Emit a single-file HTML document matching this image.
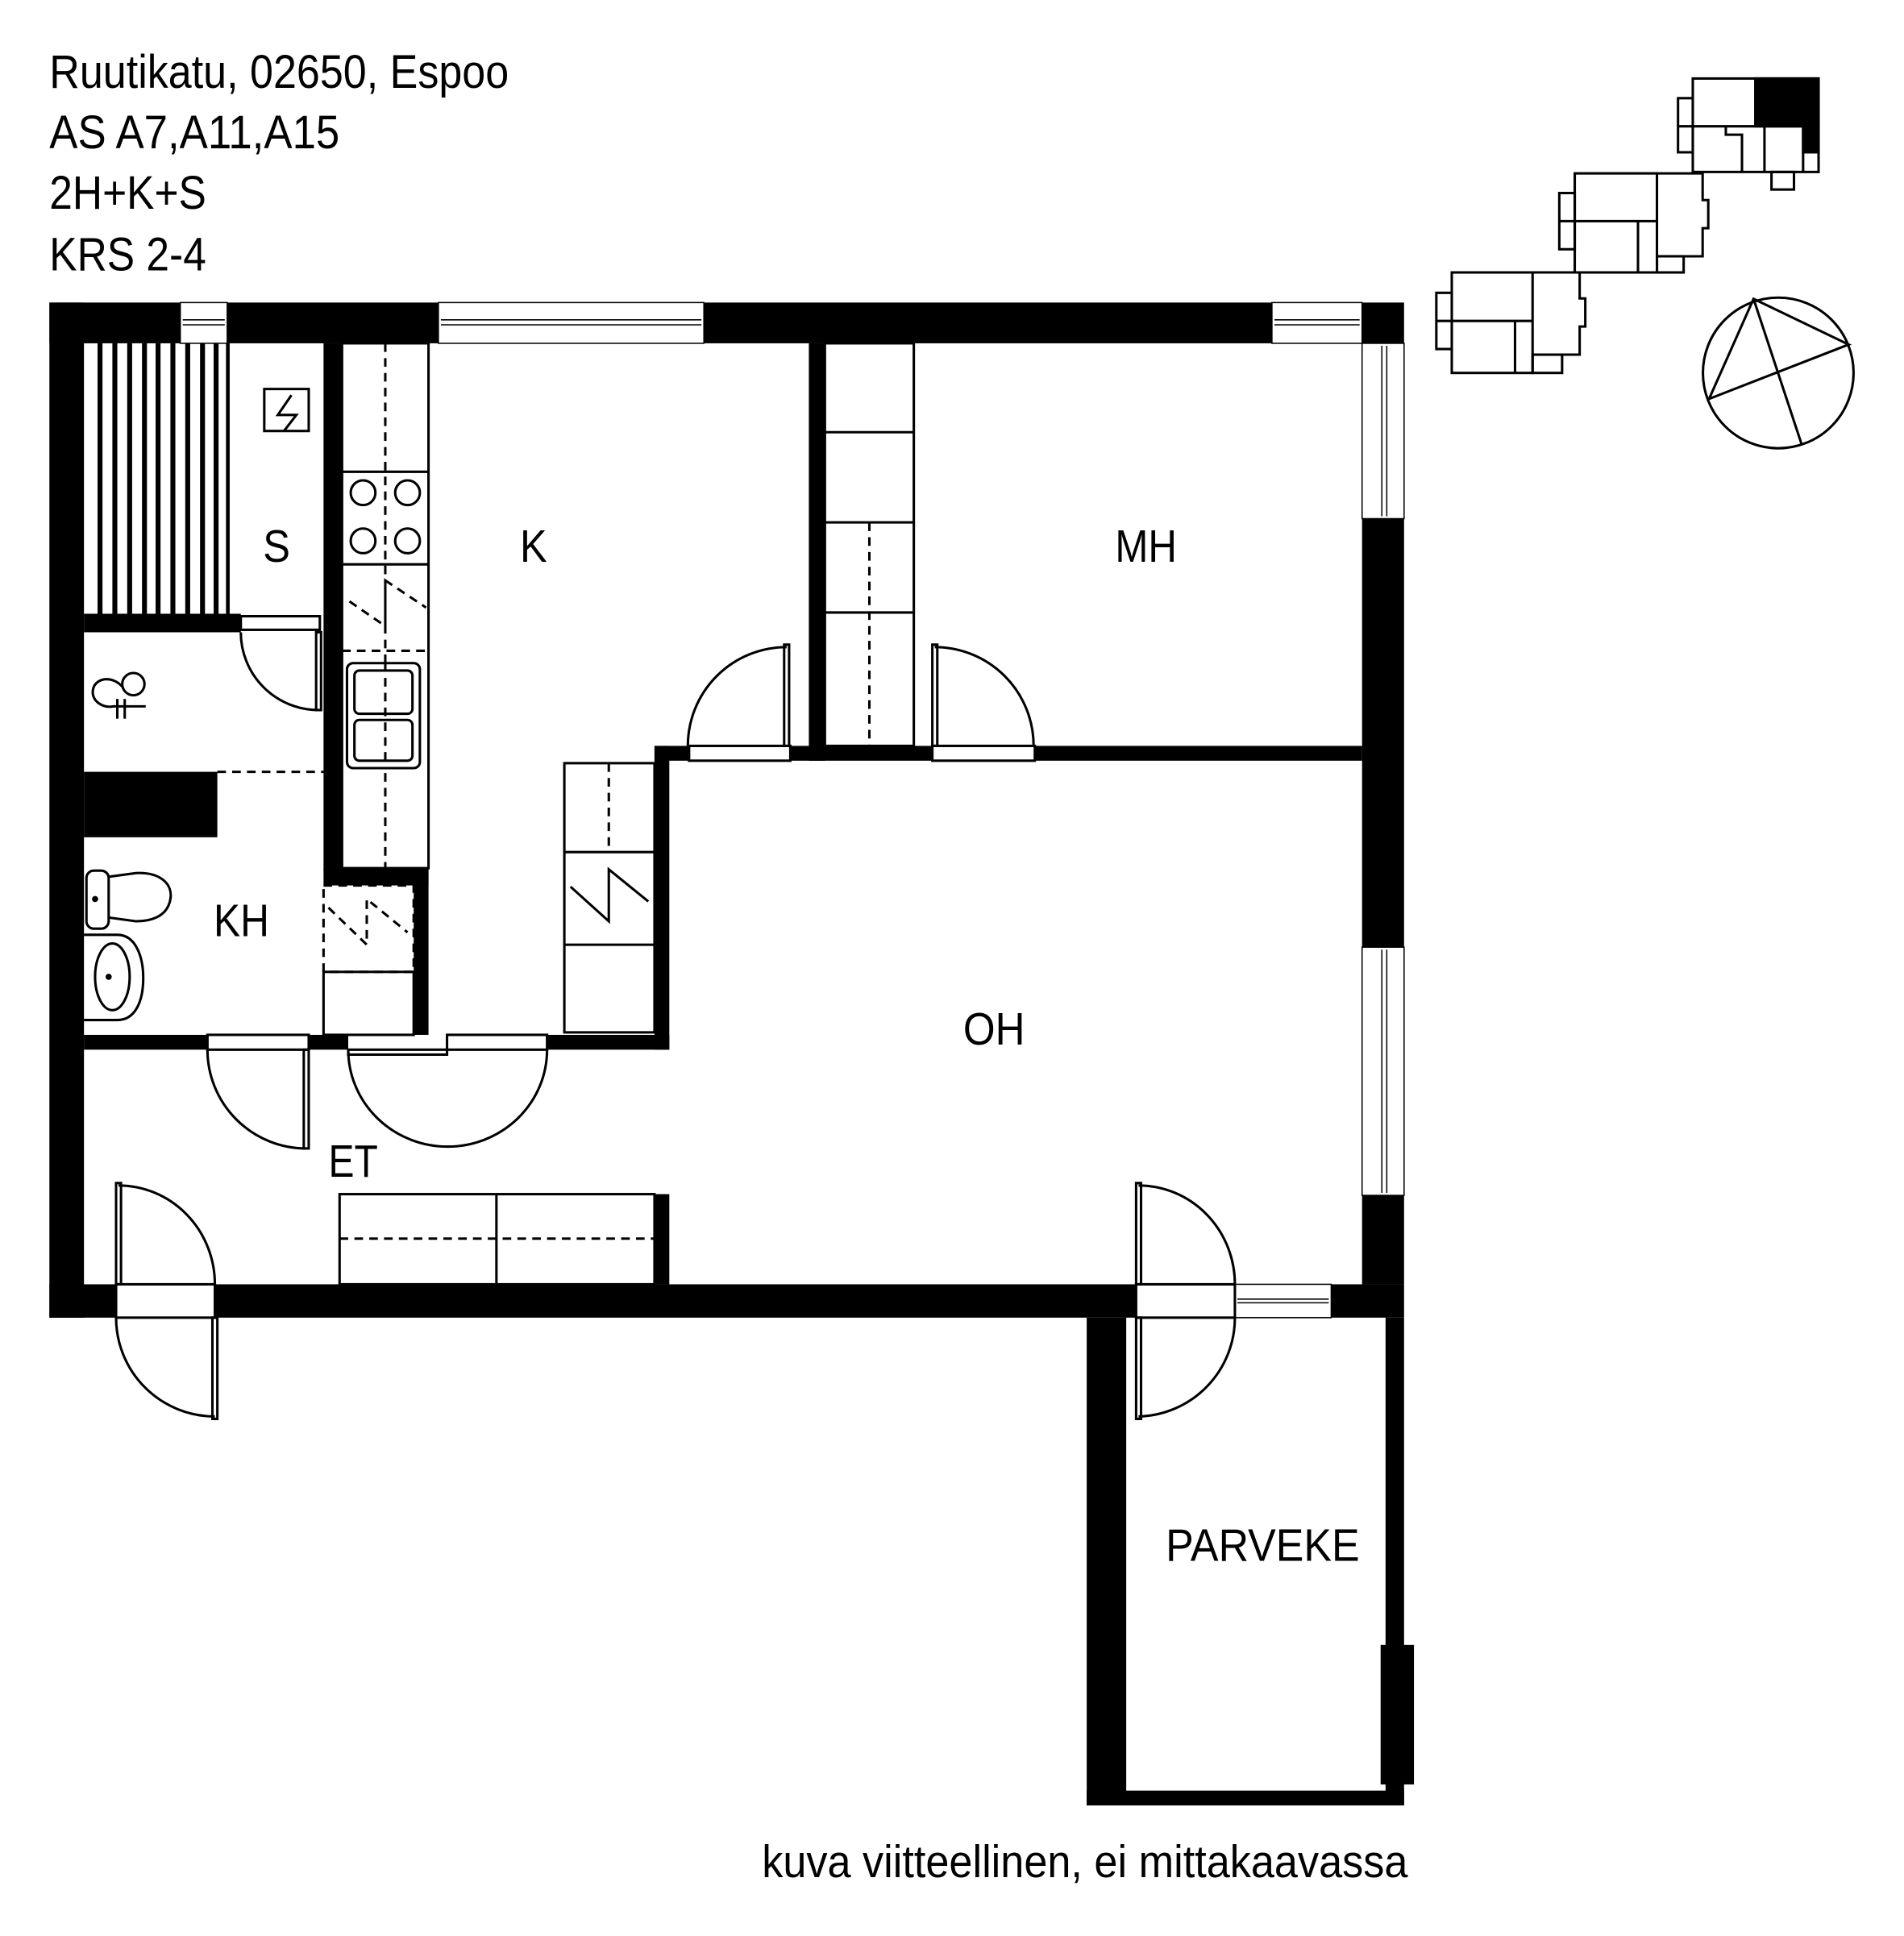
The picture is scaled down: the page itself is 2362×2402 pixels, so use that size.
<!DOCTYPE html>
<html><head><meta charset="utf-8"><style>
html,body{margin:0;padding:0;background:#fff}
svg{display:block}
text{font-family:"Liberation Sans",Arial,sans-serif;fill:#000}
</style></head><body>
<svg width="2362" height="2402" viewBox="0 0 1548 1574" preserveAspectRatio="none" xmlns="http://www.w3.org/2000/svg">
<rect width="1548" height="1574" fill="#fff"/>
<g transform="scale(1.004)">
<!-- header -->
<g font-size="38">
<text x="40" y="71" textLength="372" lengthAdjust="spacingAndGlyphs">Ruutikatu, 02650, Espoo</text>
<text x="40" y="120" textLength="235" lengthAdjust="spacingAndGlyphs">AS A7,A11,A15</text>
<text x="40" y="169" textLength="127" lengthAdjust="spacingAndGlyphs">2H+K+S</text>
<text x="40" y="219" textLength="127" lengthAdjust="spacingAndGlyphs">KRS 2-4</text>
</g>

<g fill="#000">
<rect x="40" y="245" width="106" height="33"/>
<rect x="184" y="245" width="171" height="33"/>
<rect x="570" y="245" width="460" height="33"/>
<rect x="1103" y="245" width="34" height="33"/>
<rect x="40" y="245" width="28" height="822"/>
<rect x="1103" y="420" width="34" height="347"/>
<rect x="1103" y="968" width="34" height="72"/>
<rect x="40" y="1040" width="54" height="27"/>
<rect x="174" y="1040" width="746" height="27"/>
<rect x="1078" y="1040" width="59" height="27"/>
<rect x="880" y="1067" width="32" height="395"/>
<rect x="880" y="1450" width="257" height="12"/>
<rect x="1122" y="1067" width="15" height="395"/>
<rect x="1118" y="1332" width="27" height="113"/>
<rect x="262" y="278" width="15" height="427"/>
<rect x="68" y="497" width="127" height="15"/>
<rect x="68" y="625" width="108" height="53"/>
<rect x="262" y="703" width="85" height="14"/>
<rect x="335" y="703" width="12" height="135"/>
<rect x="68" y="838" width="100" height="12"/>
<rect x="250" y="838" width="32" height="12"/>
<rect x="443" y="838" width="99" height="12"/>
<rect x="530" y="604" width="12" height="246"/>
<rect x="530" y="604" width="28" height="12"/>
<rect x="655" y="278" width="13" height="338"/>
<rect x="640" y="604" width="115" height="12"/>
<rect x="838" y="604" width="265" height="12"/>
<rect x="530" y="967" width="12" height="73"/>
<rect x="79" y="278" width="4" height="219"/><rect x="91" y="278" width="4" height="219"/>
<rect x="103" y="278" width="4" height="219"/><rect x="115" y="278" width="4" height="219"/>
<rect x="126" y="278" width="4" height="219"/><rect x="138" y="278" width="4" height="219"/>
<rect x="150" y="278" width="4" height="219"/><rect x="162" y="278" width="4" height="219"/>
<rect x="173" y="278" width="4" height="219"/><rect x="183" y="278" width="3" height="219"/>
</g>

<g fill="#fff" stroke="#000" stroke-width="1">
<rect x="146" y="245" width="38" height="33"/><line x1="148" y1="259" x2="182" y2="259"/><line x1="148" y1="263" x2="182" y2="263"/>
<rect x="355" y="245" width="215" height="33"/><line x1="357" y1="259" x2="568" y2="259"/><line x1="357" y1="263" x2="568" y2="263"/>
<rect x="1030" y="245" width="73" height="33"/><line x1="1032" y1="259" x2="1101" y2="259"/><line x1="1032" y1="263" x2="1101" y2="263"/>
<rect x="1103" y="278" width="34" height="142"/><line x1="1119" y1="280" x2="1119" y2="418"/><line x1="1123" y1="280" x2="1123" y2="418"/>
<rect x="1103" y="767" width="34" height="201"/><line x1="1119" y1="769" x2="1119" y2="966"/><line x1="1123" y1="769" x2="1123" y2="966"/>
<rect x="1000" y="1040" width="78" height="27"/><line x1="1002" y1="1052" x2="1076" y2="1052"/><line x1="1002" y1="1055" x2="1076" y2="1055"/>
<rect x="195" y="499" width="64" height="11" stroke-width="2"/>
<rect x="558" y="604" width="82" height="12" stroke-width="2"/>
<rect x="755" y="604" width="83" height="12" stroke-width="2"/>
<rect x="168" y="838" width="82" height="12" stroke-width="2"/>
<rect x="362" y="838" width="81" height="12" stroke-width="2"/>
<rect x="94" y="1040" width="80" height="27" stroke-width="2"/>
<rect x="920" y="1040" width="80" height="27" stroke-width="2"/>
</g>

<g fill="none" stroke="#000" stroke-width="2">
<rect x="277" y="278" width="70" height="425"/>
<line x1="277" y1="382" x2="347" y2="382"/>
<line x1="277" y1="457" x2="347" y2="457"/>
<line x1="312" y1="278" x2="312" y2="703" stroke-dasharray="7,5"/>
<line x1="277" y1="527" x2="347" y2="527" stroke-dasharray="7,5"/>
<circle cx="294" cy="399" r="10"/><circle cx="330" cy="399" r="10"/>
<circle cx="294" cy="438" r="10"/><circle cx="330" cy="438" r="10"/>
<path d="M283 487 L312 507 L312 470 L345 492" stroke-dasharray="7,5"/>
<rect x="281" y="537" width="59" height="85" rx="5" fill="#fff"/>
<rect x="287" y="543" width="47" height="35" rx="4"/>
<rect x="287" y="583" width="47" height="33" rx="4"/>
<line x1="312" y1="537" x2="312" y2="622" stroke-dasharray="7,5"/>
<rect x="214" y="315" width="36" height="34"/>
<path d="M236 320 L225 336 L240 336 L230 349"/>
<circle cx="108" cy="554" r="9"/>
<path d="M99 556 C92 548 80 548 76 556 C72 566 82 574 92 572 L118 572"/>
<line x1="95" y1="566" x2="95" y2="582"/><line x1="101" y1="566" x2="101" y2="582"/>
<line x1="176" y1="625" x2="262" y2="625" stroke-dasharray="7,5"/>
<rect x="70" y="705" width="18" height="47" rx="6"/>
<path d="M88 710 L110 707 C130 706 140 716 138 728 C136 740 126 746 110 746 L88 743"/>
<circle cx="77" cy="728" r="1.5" fill="#000"/>
<path d="M68 757 L95 757 C110 757 116 775 116 792 C116 810 110 826 95 826 L68 826"/>
<ellipse cx="91" cy="791" rx="14" ry="27"/>
<circle cx="88" cy="791" r="1.5" fill="#000"/>
<rect x="262" y="717" width="73" height="70" stroke-dasharray="7,5"/>
<rect x="262" y="787" width="73" height="51"/>
<path d="M266 735 L297 765 L297 728 L330 755" stroke-dasharray="7,5"/>
<rect x="457" y="618" width="73" height="218"/>
<line x1="457" y1="690" x2="530" y2="690"/><line x1="457" y1="765" x2="530" y2="765"/>
<line x1="493" y1="618" x2="493" y2="690" stroke-dasharray="7,5"/>
<path d="M462 718 L493 746 L493 704 L525 730"/>
<rect x="668" y="278" width="72" height="326"/>
<line x1="668" y1="350" x2="740" y2="350"/><line x1="668" y1="423" x2="740" y2="423"/><line x1="668" y1="496" x2="740" y2="496"/>
<line x1="704" y1="423" x2="704" y2="604" stroke-dasharray="7,5"/>
<rect x="275" y="967" width="255" height="73"/>
<line x1="402" y1="967" x2="402" y2="1040"/>
<line x1="275" y1="1003" x2="530" y2="1003" stroke-dasharray="7,5"/>
<path d="M195 512 A63 63 0 0 0 258 575"/><rect x="256" y="512" width="4" height="63"/>
<path d="M557 604 A80 80 0 0 1 637 524"/><rect x="635" y="522" width="4" height="82"/>
<path d="M837 604 A80 80 0 0 0 757 524"/><rect x="755" y="522" width="4" height="82"/>
<path d="M168 850 A80 80 0 0 0 248 930"/><rect x="246" y="850" width="4" height="80"/>
<path d="M282 850 A80 78 0 0 0 443 850"/><rect x="282" y="850" width="80" height="4"/>
<path d="M96 960 A78 80 0 0 1 174 1040"/><rect x="94" y="958" width="4" height="82"/>
<path d="M94 1067 A80 80 0 0 0 174 1147"/><rect x="172" y="1067" width="4" height="82"/>
<path d="M922 960 A78 80 0 0 1 1000 1040"/><rect x="920" y="958" width="4" height="82"/>
<path d="M1000 1067 A80 80 0 0 1 922 1147"/><rect x="920" y="1067" width="4" height="82"/>
<circle cx="1440" cy="302" r="61"/>
<path d="M1420 242 L1384 323 L1497 279 Z" stroke-width="2"/>
<line x1="1420" y1="242" x2="1459" y2="360"/>
</g>

<g transform="translate(655,-3) scale(0.569)" fill="none" stroke="#000" stroke-width="3.5">
<rect x="1347" y="117" width="90" height="68" fill="#000"/>
<rect x="1415" y="185" width="22" height="37" fill="#000"/>
<rect x="1258" y="117" width="179" height="133"/>
<line x1="1258" y1="185" x2="1437" y2="185"/>
<rect x="1237" y="145" width="21" height="77"/><line x1="1237" y1="185" x2="1258" y2="185"/>
<path d="M1305 185 L1305 197 L1328 197 L1328 250"/>
<line x1="1360" y1="185" x2="1360" y2="250"/>
<line x1="1415" y1="185" x2="1415" y2="250"/>
<rect x="1370" y="250" width="32" height="25"/>
<rect x="1090" y="252" width="117" height="141"/>
<line x1="1090" y1="320" x2="1207" y2="320"/><line x1="1180" y1="320" x2="1180" y2="393"/>
<path d="M1207 252 L1272 252 L1272 290 L1280 290 L1280 330 L1272 330 L1272 370 L1207 370"/>
<rect x="1207" y="370" width="38" height="23"/>
<rect x="1068" y="280" width="22" height="80"/><line x1="1068" y1="320" x2="1090" y2="320"/>
<rect x="915" y="393" width="115" height="143"/>
<line x1="915" y1="462" x2="1030" y2="462"/><line x1="1005" y1="462" x2="1005" y2="536"/>
<path d="M1030 393 L1097 393 L1097 430 L1105 430 L1105 470 L1097 470 L1097 510 L1030 510"/>
<rect x="1030" y="510" width="42" height="26"/>
<rect x="893" y="422" width="22" height="80"/><line x1="893" y1="462" x2="915" y2="462"/>
</g>

<g font-size="37">
<text x="213" y="455" textLength="22" lengthAdjust="spacingAndGlyphs">S</text>
<text x="421" y="455" textLength="22" lengthAdjust="spacingAndGlyphs">K</text>
<text x="903" y="455" textLength="50" lengthAdjust="spacingAndGlyphs">MH</text>
<text x="173" y="758" textLength="45" lengthAdjust="spacingAndGlyphs">KH</text>
<text x="780" y="846" textLength="50" lengthAdjust="spacingAndGlyphs">OH</text>
<text x="266" y="953" textLength="40" lengthAdjust="spacingAndGlyphs">ET</text>
<text x="944" y="1264" textLength="157" lengthAdjust="spacingAndGlyphs">PARVEKE</text>
<text x="617" y="1520" textLength="523" lengthAdjust="spacingAndGlyphs">kuva viitteellinen, ei mittakaavassa</text>
</g>
</g>
</svg>
</body></html>
